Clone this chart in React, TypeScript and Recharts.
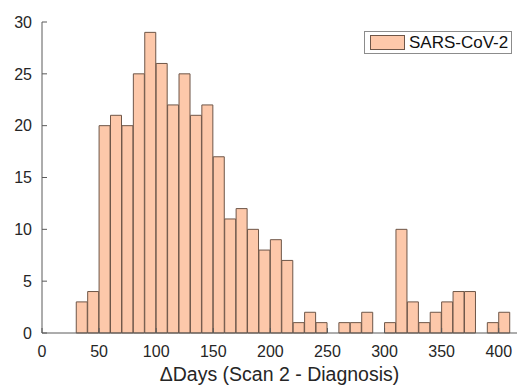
import { Bar, ComposedChart, Legend, XAxis, YAxis, Label } from 'recharts';

const binStarts = [
  30, 40, 50, 60, 70, 80, 90, 100, 110, 120, 130, 140, 150, 160, 170, 180, 190,
  200, 210, 220, 230, 240, 250, 260, 270, 280, 290, 300, 310, 320, 330, 340,
  350, 360, 370, 380, 390, 400,
];
const counts = [
  3, 4, 20, 21, 20, 25, 29, 26, 22, 25, 21, 22, 17, 11, 12, 10, 8, 9, 7, 1, 2,
  1, 0, 1, 1, 2, 0, 1, 10, 3, 1, 2, 3, 4, 4, 0, 1, 2,
];
const binWidth = 10;
const xTicks = [0, 50, 100, 150, 200, 250, 300, 350, 400];
const yTicks = [0, 5, 10, 15, 20, 25, 30];
const seriesName = 'SARS-CoV-2';

const data = binStarts.map((start, i) => ({
  x: start + binWidth / 2,
  count: counts[i],
}));

const FONT = '"Liberation Sans", Arial, Helvetica, sans-serif';
const FILL = '#FDC8AA';
const EDGE = '#6E5648';
const AXIS = '#5a5a5a';

function LegendBox({ payload }: any) {
  const item = payload && payload[0];
  return (
    <div
      style={{
        width: 148,
        height: 23,
        border: '1px solid #8c8c8c',
        background: '#fff',
        display: 'flex',
        alignItems: 'center',
        boxSizing: 'border-box',
        fontFamily: FONT,
        fontSize: 17,
        color: '#111',
        whiteSpace: 'nowrap',
      }}
    >
      <span
        style={{
          display: 'inline-block',
          width: 35,
          height: 15,
          marginLeft: 5,
          marginRight: 4,
          background: FILL,
          border: `1px solid ${EDGE}`,
          boxSizing: 'border-box',
        }}
      />
      <span>{item ? item.value : seriesName}</span>
    </div>
  );
}

export default function App() {
  return (
    <div style={{ position: 'absolute', left: 0, top: 0, background: '#fff' }}>
      <ComposedChart
        width={517}
        height={387}
        data={data}
        margin={{ top: 22, right: 0, bottom: 0, left: 0 }}
        barCategoryGap={0}
        barGap={0}
      >
        <XAxis
          dataKey="x"
          type="number"
          domain={[0, 416]}
          ticks={xTicks}
          allowDataOverflow
          height={54}
          tickSize={-5}
          tickMargin={18}
          stroke={AXIS}
          tick={{ fill: '#262626', fontSize: 16, fontFamily: FONT }}
        >
          <Label
            value="ΔDays (Scan 2 - Diagnosis)"
            position="insideBottom"
            offset={6}
            style={{ fill: '#262626', fontSize: 19.5, fontFamily: FONT }}
          />
        </XAxis>
        <YAxis
          type="number"
          domain={[0, 30]}
          ticks={yTicks}
          width={42}
          tickSize={-5}
          tickMargin={15}
          stroke={AXIS}
          tick={{ fill: '#262626', fontSize: 16, fontFamily: FONT }}
        />
        <Legend
          verticalAlign="middle"
          align="center"
          layout="horizontal"
          content={<LegendBox />}
          wrapperStyle={{ top: 31, left: 364, width: 148 }}
        />
        <Bar
          dataKey="count"
          name={seriesName}
          fill={FILL}
          stroke={EDGE}
          strokeWidth={1}
          isAnimationActive={false}
        />
      </ComposedChart>
    </div>
  );
}
